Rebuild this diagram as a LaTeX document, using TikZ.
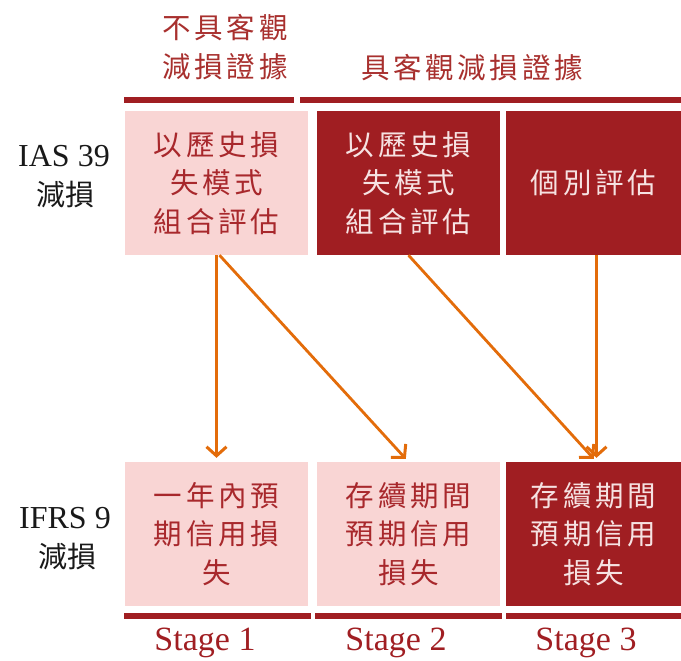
\documentclass[tikz,border=0pt]{standalone}
\usepackage{fontspec}
\setmainfont{Liberation Serif}
\newfontfamily\cjk[LetterSpace=13]{Noto Sans CJK TC}
\newfontfamily\cjkplain{Noto Sans CJK TC}
\usetikzlibrary{arrows.meta}
\definecolor{dred}{HTML}{A01E22}
\definecolor{lpink}{HTML}{F9D5D4}
\definecolor{btext}{HTML}{A8282C}
\definecolor{dtext}{HTML}{F6E2E2}
\definecolor{arr}{HTML}{E36C0A}
\definecolor{toptext}{HTML}{A8302E}
\tikzset{
  cjkfont/.style={font=\cjk\fontsize{28.5}{38.5}\selectfont},
  lightbox/.style={rectangle, fill=lpink, minimum width=#1, minimum height=144pt, inner sep=0pt,
    text=btext, align=center, cjkfont},
  darkbox/.style={rectangle, fill=dred, minimum width=#1, minimum height=144pt, inner sep=0pt,
    text=dtext, align=center, cjkfont},
  toplabel/.style={text=toptext, align=center, font=\cjk\fontsize{28.5}{39}\selectfont},
  leftlabel/.style={text=black!90, align=center, inner sep=0pt},
  stagelabel/.style={text=dred, font=\fontsize{34}{36}\selectfont, inner sep=0pt},
  flow/.style={draw=arr, line width=2.8pt, -{Straight Barb[length=9pt,width=20pt,line width=3pt]}, shorten >=4pt},
  bar/.style={fill=dred}
}
\begin{document}
\begin{tikzpicture}[x=1pt,y=1pt]
\useasboundingbox (0,0) rectangle (681,-661);
% top bars
\fill[bar] (124,-97) rectangle (294,-103);
\fill[bar] (300,-97) rectangle (681,-103);
% top labels
\node[toplabel] (tl1) at (225,-47) {不具客觀\\減損證據};
\node[toplabel] (tl2) at (472,-68) {具客觀減損證據};
% left labels
\node[leftlabel, font=\fontsize{32}{32}\selectfont] (ias) at (64,-156) {IAS 39};
\node[leftlabel, font=\cjkplain\fontsize{29}{29}\selectfont] (iasj) at (65,-195) {減損};
\node[leftlabel, font=\fontsize{32}{32}\selectfont] (ifrs) at (65,-518) {IFRS 9};
\node[leftlabel, font=\cjkplain\fontsize{29}{29}\selectfont] (ifrsj) at (67,-557) {減損};
% top boxes
\node[lightbox=183pt] (t1) at (216.5,-183) {以歷史損\\失模式\\組合評估};
\node[darkbox=183pt] (t2) at (408.5,-183) {以歷史損\\失模式\\組合評估};
\node[darkbox=175pt] (t3) at (593.5,-183) {個別評估};
% bottom boxes
\node[lightbox=183pt] (b1) at (216.5,-534) {一年內預\\期信用損\\失};
\node[lightbox=183pt] (b2) at (408.5,-534) {存續期間\\預期信用\\損失};
\node[darkbox=175pt] (b3) at (593.5,-534) {存續期間\\預期信用\\損失};
% bottom bars
\fill[bar] (124,-613) rectangle (311,-619);
\fill[bar] (315,-613) rectangle (502,-619);
\fill[bar] (506,-613) rectangle (681,-619);
% stage labels
\node[stagelabel] (s1) at (205,-643) {Stage 1};
\node[stagelabel] (s2) at (396,-643) {Stage 2};
\node[stagelabel] (s3) at (586,-643) {Stage 3};
% arrows
\coordinate (t1a) at ([xshift=3pt]t1.south);
\draw[flow] (t1.south) -- (b1.north);
\draw[flow] (t1a) -- (b2.north);
\draw[flow] (t2.south) -- ([xshift=3pt]b3.north);
\draw[flow] ([xshift=3pt]t3.south) -- ([xshift=3pt]b3.north);
\end{tikzpicture}
\end{document}
